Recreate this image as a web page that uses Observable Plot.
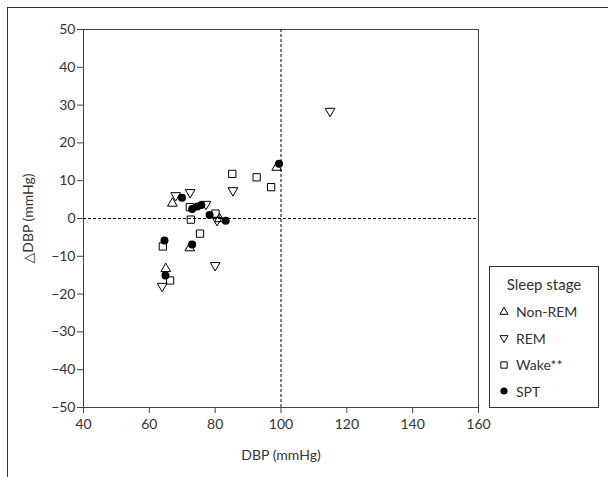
<!DOCTYPE html>
<html>
<head>
<meta charset="utf-8">
<script src="https://cdn.jsdelivr.net/npm/d3@7"></script>
<script src="https://cdn.jsdelivr.net/npm/@observablehq/plot@0.6"></script>
<style>
  body { margin: 0; background: #fff; }
  #wrap { position: relative; width: 608px; height: 477px; overflow: hidden; font-family: Lato, "DejaVu Sans", sans-serif; color: #333; }
  #border { position: absolute; left: 7px; top: 7px; width: 800px; height: 800px; border-left: 1px solid #333; border-top: 1px solid #333; }
  #chart { position: absolute; left: 0; top: 0; }
  #legend { position: absolute; left: 489px; top: 266px; width: 110px; height: 142px; border: 1px solid #333; box-sizing: border-box; background: #fff; font-size: 14px; color: #333; }
  #legend .title { position: absolute; left: 0; width: 100%; text-align: center; top: 8px; font-size: 15px; }
  #legend .item { position: absolute; left: 8px; display: flex; align-items: center; }
  #legend .item svg { margin-right: 6px; }
</style>
</head>
<body>
<div id="wrap">
  <div id="border"></div>
  <div id="chart"></div>
  <div id="legend"></div>
</div>
<script>
// Data
const stages = ["Non-REM", "REM", "Wake**", "SPT"];
const nonRemX = [98.7, 67.0, 81.3, 72.3, 65.0];
const nonRemY = [13.5, 4.0, -0.1, -7.8, -13.3];
const remX = [114.9, 85.4, 72.4, 68.0, 77.2, 80.6, 80.0, 63.9];
const remY = [28.4, 7.4, 6.9, 6.1, 3.8, -0.5, -12.4, -17.9];
const wakeX = [85.2, 92.6, 97.0, 72.3, 80.1, 72.6, 75.4, 64.1, 66.3];
const wakeY = [11.8, 10.9, 8.3, 3.0, 1.3, -0.3, -4.0, -7.4, -16.4];
const sptX = [99.4, 69.9, 73.0, 74.6, 75.8, 78.3, 83.2, 64.6, 73.0, 64.9];
const sptY = [14.5, 5.5, 2.5, 3.2, 3.6, 0.9, -0.6, -5.8, -6.9, -15.1];
const xTicks = [40, 60, 80, 100, 120, 140, 160];
const yTicks = [-50, -40, -30, -20, -10, 0, 10, 20, 30, 40, 50];
const refX = [100];
const refY = [0];

const pts = (xs, ys) => xs.map((x, i) => ({x, y: ys[i]}));

const triDown = {
  draw(context, size) {
    const y = -Math.sqrt(size / (Math.sqrt(3) * 3));
    context.moveTo(0, -y * 2);
    context.lineTo(-Math.sqrt(3) * y, y);
    context.lineTo(Math.sqrt(3) * y, y);
    context.closePath();
  }
};

const chart = Plot.plot({
  width: 608,
  height: 477,
  marginLeft: 83,
  marginRight: 130,
  marginTop: 29,
  marginBottom: 70,
  style: { fontFamily: 'Lato, "DejaVu Sans", sans-serif', fontSize: "14px", color: "#333", background: "transparent" },
  x: { domain: [40, 160], ticks: xTicks, label: null },
  y: { domain: [-50, 50], ticks: yTicks, label: null },
  marks: [
    Plot.frame({ stroke: "#444" }),
    Plot.ruleY(refY, { stroke: "#000", strokeDasharray: "3,2", strokeWidth: 1 }),
    Plot.ruleX(refX, { stroke: "#000", strokeDasharray: "3,2", strokeWidth: 1 }),
    Plot.axisX({ ticks: xTicks, tickSize: 6, tickPadding: 6, stroke: "#444", fill: "#333", fontSize: 14, label: null }),
    Plot.axisX({ ticks: [], label: "DBP (mmHg)", labelAnchor: "center", labelArrow: "none", labelOffset: 52, fontSize: 14, fill: "#333" }),
    Plot.axisY({ ticks: yTicks, tickSize: 6, tickPadding: 2, stroke: "#444", fill: "#333", fontSize: 14, label: null }),
    Plot.axisY({ ticks: [], label: "△DBP (mmHg)", labelAnchor: "center", labelArrow: "none", labelOffset: 60, fontSize: 14, fill: "#333" }),
    Plot.dot(pts(wakeX, wakeY), { x: "x", y: "y", symbol: "square", r: 4.1, stroke: "#000", strokeWidth: 1, fill: "none" }),
    Plot.dot(pts(nonRemX, nonRemY), { x: "x", y: "y", symbol: "triangle", r: 3.6, stroke: "#000", strokeWidth: 1, fill: "none" }),
    Plot.dot(pts(remX, remY), { x: "x", y: "y", symbol: triDown, r: 3.6, stroke: "#000", strokeWidth: 1, fill: "none" }),
    Plot.dot(pts(sptX, sptY), { x: "x", y: "y", symbol: "circle", r: 4, fill: "#000", stroke: "none" })
  ]
});
document.getElementById("chart").appendChild(chart);

// Legend
const legend = document.getElementById("legend");
const title = document.createElement("div");
title.className = "title";
title.textContent = "Sleep stage";
legend.appendChild(title);
const symPaths = [
  d3.symbol(d3.symbolTriangle, 28)(),
  d3.symbol(triDown, 28)(),
  d3.symbol(d3.symbolSquare, 40)(),
  d3.symbol(d3.symbolCircle, 40)()
];
stages.forEach((s, i) => {
  const item = document.createElement("div");
  item.className = "item";
  item.style.top = (36 + i * 26.5) + "px";
  const filled = i === 3;
  item.innerHTML = `<svg width="12" height="12" viewBox="-6 -6 12 12"><path d="${symPaths[i]}" fill="${filled ? "#000" : "none"}" stroke="${filled ? "none" : "#000"}" stroke-width="1"/></svg><span>${s}</span>`;
  legend.appendChild(item);
});
</script>
</body>
</html>
